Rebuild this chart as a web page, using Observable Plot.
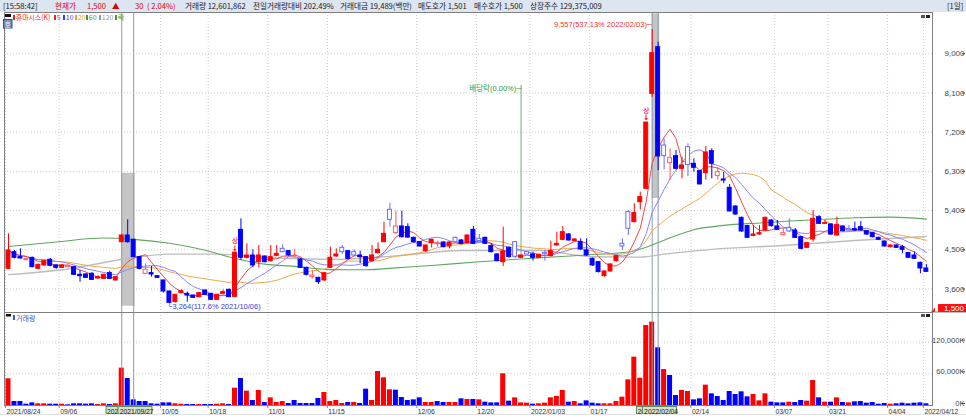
<!DOCTYPE html>
<html><head><meta charset="utf-8">
<script src="https://cdn.jsdelivr.net/npm/d3@7"></script>
<script src="https://cdn.jsdelivr.net/npm/@observablehq/plot@0.6"></script>
<style>
body{margin:0;background:#fff;}
#wrap{position:relative;width:966px;height:419px;overflow:hidden;background:#fff;}
#wrap svg{position:absolute;left:0;}
</style></head>
<body><div id="wrap"></div>
<script>
// ---------------- DATA ----------------
const dates = [
"2021/08/24","2021/08/25","2021/08/26","2021/08/27","2021/08/30","2021/08/31",
"2021/09/01","2021/09/02","2021/09/03","2021/09/06","2021/09/07","2021/09/08","2021/09/09","2021/09/10","2021/09/13","2021/09/14","2021/09/15","2021/09/16","2021/09/17","2021/09/23","2021/09/24","2021/09/27","2021/09/28","2021/09/29","2021/09/30",
"2021/10/01","2021/10/05","2021/10/06","2021/10/07","2021/10/08","2021/10/12","2021/10/13","2021/10/14","2021/10/15","2021/10/18","2021/10/19","2021/10/20","2021/10/21","2021/10/22","2021/10/25","2021/10/26","2021/10/27","2021/10/28","2021/10/29",
"2021/11/01","2021/11/02","2021/11/03","2021/11/04","2021/11/05","2021/11/08","2021/11/09","2021/11/10","2021/11/11","2021/11/12","2021/11/15","2021/11/16","2021/11/17","2021/11/18","2021/11/19","2021/11/22","2021/11/23","2021/11/24","2021/11/25","2021/11/26","2021/11/29","2021/11/30",
"2021/12/01","2021/12/02","2021/12/03","2021/12/06","2021/12/07","2021/12/08","2021/12/09","2021/12/10","2021/12/13","2021/12/14","2021/12/15","2021/12/16","2021/12/17","2021/12/20","2021/12/21","2021/12/22","2021/12/23","2021/12/24","2021/12/27","2021/12/28","2021/12/29","2021/12/30",
"2022/01/03","2022/01/04","2022/01/05","2022/01/06","2022/01/07","2022/01/10","2022/01/11","2022/01/12","2022/01/13","2022/01/14","2022/01/17","2022/01/18","2022/01/19","2022/01/20","2022/01/21","2022/01/24","2022/01/25","2022/01/26","2022/01/27","2022/01/28",
"2022/02/03","2022/02/04","2022/02/07","2022/02/08","2022/02/09","2022/02/10","2022/02/11","2022/02/14","2022/02/15","2022/02/16","2022/02/17","2022/02/18","2022/02/21","2022/02/22","2022/02/23","2022/02/24","2022/02/25","2022/02/28",
"2022/03/02","2022/03/03","2022/03/04","2022/03/07","2022/03/08","2022/03/10","2022/03/11","2022/03/14","2022/03/15","2022/03/16","2022/03/17","2022/03/18","2022/03/21","2022/03/22","2022/03/23","2022/03/24","2022/03/25","2022/03/28","2022/03/29","2022/03/30","2022/03/31",
"2022/04/01","2022/04/04","2022/04/05","2022/04/06","2022/04/07","2022/04/08","2022/04/11","2022/04/12"
];
const open = [
4063,4445,4331,4262,4315,4063,4140,4270,4140,4086,
4101,4101,3925,3933,3948,3841,3833,3964,3795,4675,
4828,4729,4331,3948,3964,3894,3795,3542,3297,3504,
3489,3450,3412,3565,3489,3351,3489,3580,3420,4958,
4315,4369,4216,4346,4239,4361,4522,4469,4345,4277,
4086,3872,3856,3795,4086,4346,4545,4469,4446,4369,
4331,4239,4422,4675,5418,4882,5035,5020,4775,4675,
4469,4652,4630,4668,4576,4775,4714,4652,4958,4752,
4775,4584,4393,4216,4545,4676,4316,4446,4393,4316,
4423,4354,4599,4729,4852,4699,4676,4484,4293,4217,
3895,4002,4239,4637,5365,5135,5594,5900,8081,9152,
6894,6489,6650,6359,6856,6474,6305,6259,6764,6191,
6114,5923,5494,5234,5043,4820,4851,4943,5173,5035,
4836,5004,4943,4790,4545,4737,5249,5096,5081,4828,
5035,4974,4974,5020,4928,4882,4775,4690,4560,4599,
4560,4423,4369,4201,4071
];
const high = [
4866,4484,4522,4310,4330,4170,4260,4300,4160,4160,
4150,4120,4025,3960,3975,3900,3940,4010,3880,4840,
5188,4740,4340,4178,4117,3900,3800,3550,3480,3580,
3530,3460,3520,3580,3500,3475,3580,3600,4435,5211,
4637,4500,4599,4360,4599,4599,4614,4480,4499,4300,
4100,4025,3870,3980,4560,4522,4599,4480,4500,4470,
4340,4599,4660,5134,5571,5387,5387,5096,4790,4690,
4610,4740,4700,4680,4690,4790,4730,4840,5035,4851,
4790,4637,4410,5020,4560,4690,4385,4460,4446,4400,
4484,4699,4905,5035,4870,4750,4752,4752,4310,4230,
4010,4175,4370,4752,5403,5556,5824,7422,9557,9267,
7048,6818,6780,6627,6933,6588,6320,6872,6818,6390,
6282,6000,5510,5250,5060,5058,5058,5250,5190,5173,
4990,5211,4990,4800,4670,5402,5290,5173,5100,5250,
5050,5058,5135,5150,4940,4900,4790,4700,4610,4610,
4599,4440,4446,4216,4163
];
const low = [
4050,4292,4285,4250,4090,4040,4125,4110,4050,4070,
4090,3910,3757,3840,3795,3820,3820,3815,3780,4660,
4650,4320,4040,3930,3871,3840,3507,3264,3280,3490,
3297,3380,3400,3450,3340,3340,3480,3400,3400,4254,
4290,4086,4086,4200,4220,4340,4430,4350,4330,4070,
3900,3830,3704,3780,4070,4330,4390,4270,4340,4180,
4100,4220,4410,4660,5020,4860,4770,4770,4650,4560,
4440,4540,4560,4545,4520,4660,4620,4640,4620,4690,
4620,4430,4220,4117,4310,4300,4300,4380,4240,4300,
4240,4340,4590,4710,4700,4680,4490,4350,4120,3970,
3872,3990,4220,4484,4828,5120,5418,5880,8000,6320,
6336,6091,6336,6129,6183,6282,5990,6100,6129,6100,
6015,5370,5290,4900,4760,4800,4830,4920,5020,4940,
4820,4900,4760,4500,4530,4675,5080,5080,4830,4810,
4910,4920,4920,4920,4830,4770,4710,4560,4545,4530,
4408,4300,4280,3948,3987
];
const close = [
4484,4315,4300,4285,4101,4155,4239,4132,4086,4140,
4132,3925,3894,3856,3810,3871,3925,3833,3871,4828,
4675,4331,4063,4040,3933,3856,3542,3282,3466,3550,
3450,3397,3504,3466,3351,3466,3527,3412,4435,4315,
4369,4140,4369,4216,4331,4407,4446,4369,4362,4086,
3925,3910,3757,3963,4315,4392,4446,4292,4369,4331,
4124,4369,4499,4866,5188,5035,4790,4780,4675,4576,
4599,4729,4652,4560,4668,4675,4637,4828,4637,4699,
4637,4446,4240,4461,4331,4339,4369,4393,4316,4385,
4408,4469,4637,4905,4714,4737,4507,4369,4140,3987,
4002,4163,4354,4576,4982,5342,5709,7422,9014,6642,
6650,6604,6359,6435,6445,6382,6000,6734,6474,6283,
6091,5380,5310,4920,4775,4851,4881,5234,5043,4958,
4882,4920,4775,4522,4652,5211,5096,5112,4851,5073,
4928,4943,4943,4943,4851,4790,4729,4576,4599,4545,
4499,4316,4293,4071,3994
];
// volume in thousands of shares (K)
const volume = [
50500,7600,7600,2500,5000,3200,3200,2500,2500,2500,
1300,3200,3200,2500,3200,1900,3200,1900,3200,70700,
51100,10700,7600,7600,3200,2500,5000,5000,3200,2500,
1900,1900,1900,1900,1900,2500,3200,1900,32800,51100,
27100,9500,28400,5700,14500,5700,7500,3800,9500,3800,
3800,3800,13300,24600,7500,9500,3800,5700,5700,3800,
30900,9500,64400,52400,29700,29000,15100,9500,10700,14500,
5700,5700,7500,5700,5700,5700,12600,11400,11400,10700,
6300,5000,5000,60000,8200,14500,5000,4400,2500,3200,
4400,14500,17000,28400,6300,7500,3200,8800,4400,3200,
3200,3200,7500,15800,48600,91500,51700,151400,157800,109200,
68100,56800,18900,28400,26500,10700,12600,38500,22100,17000,
9500,26500,20800,25900,16400,20800,8800,22100,6300,5000,
5000,6300,5700,9500,8200,47300,14500,6300,6300,14500,
5700,5000,6900,7500,4400,5700,2500,3800,2500,3200,
4400,3200,4400,5000,3200
];
// 60-day and 120-day moving averages
const ma60Dates = ["2021/08/24","2021/09/03","2021/09/15","2021/09/27","2021/10/06","2021/10/15","2021/10/22","2021/10/29","2021/11/05","2021/11/15","2021/11/23","2021/11/30","2021/12/08","2021/12/20","2021/12/29","2022/01/07","2022/01/17","2022/01/25","2022/01/28","2022/02/07","2022/02/14","2022/02/21","2022/03/02","2022/03/10","2022/03/18","2022/03/25","2022/04/04","2022/04/12"];
const ma60 = [4576,4680,4770,4740,4650,4490,4300,4170,4120,4045,4040,4085,4140,4225,4290,4340,4390,4450,4560,4720,4960,5060,5115,5160,5200,5235,5250,5205];
const ma120Dates = ["2021/08/24","2021/09/07","2021/09/24","2021/10/06","2021/10/19","2021/11/02","2021/11/16","2021/11/30","2021/12/15","2022/01/04","2022/01/17","2022/01/27","2022/02/07","2022/02/17","2022/03/08","2022/03/25","2022/04/12"];
const ma120 = [3930,4060,4300,4400,4400,4310,4280,4360,4484,4484,4340,4331,4400,4510,4600,4714,4805];

const priceTicks = [3600,4500,5400,6300,7200,8100,9000];
const volumeTicks = [0,60000,120000];
const axisDates  = ["2021/08/24","2021/09/06","2021/10/05","2021/10/18","2021/11/01","2021/11/15","2021/12/06","2021/12/20","2022/01/03","2022/01/17","2022/02/14","2022/03/07","2022/03/21","2022/04/04","2022/04/12"];
const axisLabels = ["2021/08/24","09/06","10/05","10/18","11/01","11/15","12/06","12/20","2022/01/03","01/17","02/14","03/07","03/21","04/04","2022/04/12"];

const selStart = ["2021/09/23","2022/02/03"];
const selEnd   = ["2021/09/27","2022/02/04"];
const selLow   = [3205,5678];
const selHigh  = [6259,9918];

const exDividendDate = "2021/12/29";
const exDividendRate = "0.00%";
const currentPrice = 1500;

const headerTexts = ["[15:58:42]","현재가","1,500","▲","30","( 2.04%)","거래량 12,601,862","전일거래량대비 202.49%","거래대금 19,489(백만)","매도호가 1,501","매수호가 1,500","상장주수 129,375,009","[1일]"];
const stockName = "휴마시스(K)";
const maPeriods = ["5","10","20","60","120"];
const volumeName = "거래량";

// ---------------- BUILD ----------------
const RED = "#ff0000", BLUE = "#0000ff", HRED = "#ff5a5a", HBLUE = "#6a6aff";
const GRID = "#cdcdcd";
const fmt = d3.format(",");
const idx = new Map(dates.map((d, i) => [d, i]));
const ix = d => idx.get(d);

const bars = dates.map((date, i) => ({
  i, date, open: open[i], high: high[i], low: low[i], close: close[i], volume: volume[i],
  prev: i > 0 ? close[i - 1] : null
}));
for (const b of bars) {
  b.up = b.close >= b.open;
  b.volUp = b.prev === null || b.close > b.prev;
  b.hollow = b.prev !== null && b.close !== b.open && (b.close > b.open) !== (b.close > b.prev);
  b.color = b.hollow ? (b.up ? HRED : HBLUE) : (b.up ? RED : BLUE);
  b.limitUp = b.prev !== null && b.close >= b.prev * 1.295;
}
const limitBars = bars.filter(b => b.limitUp);
const hiBar = bars.reduce((a, b) => b.high > a.high ? b : a);
const loBar = bars.reduce((a, b) => b.low < a.low ? b : a);
const pct = v => +((v / currentPrice - 1) * 100).toFixed(2);

const sels = selStart.map((s, j) => ({start: s, end: selEnd[j], low: selLow[j], high: selHigh[j]}));
const selEdges = [...selStart, ...selEnd];
// visible part of a start label that is partly covered by its end label
const startVisible = selStart.map((s, j) => ({d: s, text: s.slice(0, Math.max(1, Math.round((ix(selEnd[j]) - ix(s)) * 1.5)))}));
const ma60Pts = ma60Dates.map((d, j) => ({i: ix(d), v: ma60[j]}));
const ma120Pts = ma120Dates.map((d, j) => ({i: ix(d), v: ma120[j]}));

const xDomain = [-0.671, 155.03];
const yDomain = [3060, 9948];
const FONT = "'Liberation Sans Narrow','Liberation Sans','Noto Sans CJK KR',sans-serif";

const pricePlot = Plot.plot({
  width: 966, height: 300, marginLeft: 4, marginRight: 34, marginTop: 0, marginBottom: 0,
  x: {domain: xDomain, axis: null},
  y: {domain: yDomain, axis: null},
  style: {fontFamily: FONT, background: "transparent", overflow: "visible"},
  marks: [
    Plot.ruleY(priceTicks, {stroke: GRID, strokeDasharray: "1,2"}),
    Plot.ruleX(axisDates, {x: d => ix(d) - 0.5, stroke: GRID, strokeDasharray: "1,2"}),
    Plot.rect(sels, {x1: d => ix(d.start), x2: d => ix(d.end) + 0.25, y1: "low", y2: "high", fill: "#c5c5c5"}),
    Plot.ruleX(selEdges, {x: ix, stroke: "#8d9ab0"}),
    Plot.line(ma120Pts, {x: "i", y: "v", stroke: "#bdbdbd", strokeWidth: 1.4, curve: "monotone-x"}),
    Plot.line(ma60Pts, {x: "i", y: "v", stroke: "#5ea85e", strokeWidth: 1.1, curve: "monotone-x"}),
    Plot.lineY(bars, Plot.windowY({k: 20, anchor: "end"}, {x: "i", y: "close", stroke: "#efaa45", strokeWidth: 1})),
    Plot.lineY(bars, Plot.windowY({k: 10, anchor: "end"}, {x: "i", y: "close", stroke: "#8686ff", strokeWidth: 1})),
    Plot.lineY(bars, Plot.windowY({k: 5, anchor: "end"}, {x: "i", y: "close", stroke: "#ec4a4a", strokeWidth: 1})),
    Plot.ruleX([exDividendDate], {x: ix, y1: () => yDomain[1], y2: d => high[ix(d)], insetTop: 73, stroke: "#6aae6a"}),
    Plot.text([exDividendDate], {x: ix, frameAnchor: "top", dy: 73, text: () => `배당락(${exDividendRate})─`, textAnchor: "end", dx: 0.5, fill: "#3a9a3a", fontSize: 7.5}),
    Plot.ruleX(bars, {x: "i", y1: "low", y2: "high", stroke: "color"}),
    Plot.rect(bars, {x1: d => d.i - 0.33, x2: d => d.i + 0.33, y1: "open", y2: "close",
      fill: d => d.hollow ? "#ffffff" : d.color, stroke: "color", strokeWidth: 1}),
    Plot.text(limitBars, {x: "i", y: "high", text: () => "상", dy: -12, fill: RED, fontSize: 7, fontFamily: "'Noto Sans CJK KR'"}),
    Plot.text(limitBars, {x: "i", y: "high", text: () => "↓", dy: -4.5, fill: RED, fontSize: 7.5, fontWeight: "bold", fontFamily: "'DejaVu Sans'"}),
    Plot.text([hiBar], {x: "i", y: "high", text: d => `${fmt(d.high)}(${pct(d.high)}% ${d.date})─`, textAnchor: "end", dy: -4.5, fill: "#f03030", fontSize: 7.5}),
    Plot.text([loBar], {x: "i", y: "low", text: d => `└${fmt(d.low)}(${pct(d.low)}% ${d.date})`, textAnchor: "start", dx: -2.3, dy: 2.5, fill: "#3a3ae8", fontSize: 7.5}),
    Plot.axisY(priceTicks, {anchor: "right", tickSize: 3, tickPadding: 0, textAnchor: "end", dx: 29, tickFormat: fmt, fontSize: 8, color: "#444", label: null}),
    Plot.frame({stroke: "#7f7f7f"})
  ]
});

const volPlot = Plot.plot({
  width: 966, height: 107, marginLeft: 4, marginRight: 34, marginTop: 0, marginBottom: 14,
  x: {domain: xDomain, axis: null},
  y: {domain: [0, 176050], axis: null},
  style: {fontFamily: FONT, background: "transparent", overflow: "visible"},
  marks: [
    Plot.ruleY(volumeTicks.filter(v => v > 0), {stroke: GRID, strokeDasharray: "1,2"}),
    Plot.ruleX(axisDates, {x: d => ix(d) - 0.5, stroke: GRID, strokeDasharray: "1,2"}),
    Plot.rect(bars, {x1: d => d.i - 0.42, x2: d => d.i + 0.42, y1: 0, y2: "volume", fill: d => d.volUp ? RED : BLUE}),
    Plot.ruleX(selEdges, {x: ix, stroke: "#8d9ab0"}),
    Plot.axisY(volumeTicks, {anchor: "right", tickSize: 3, tickPadding: 0, textAnchor: "end", dx: 29, dy: -2, tickFormat: d => fmt(d) + "K", fontSize: 7.6, color: "#444", label: null}),
    Plot.ruleX(axisDates, {x: d => ix(d) - 0.5, y1: 0, y2: 0, insetBottom: -3, stroke: "#888"}),
    Plot.text(axisDates, {x: d => ix(d) - 0.5, y: 0, dy: 6.2, dx: 1, text: (d, i) => axisLabels[i], textAnchor: "start", fontSize: 6.8, fill: "#333"}),
    Plot.rect(selStart, {x1: d => ix(d) - 2.55, x2: d => ix(d) + 3.15, y1: 0, y2: 0, insetTop: 1.5, insetBottom: -9, fill: "#d6e2cf", stroke: "#5c8a5c"}),
    Plot.text(startVisible, {x: d => ix(d.d) - 2.55, y: 0, dy: 6, dx: 0.5, text: "text", textAnchor: "start", fontSize: 6.8, fill: "#222"}),
    Plot.rect(selEnd, {x1: d => ix(d) - 2.55, x2: d => ix(d) + 3.15, y1: 0, y2: 0, insetTop: 1.5, insetBottom: -9, fill: "#d6e2cf", stroke: "#5c8a5c"}),
    Plot.text(selEnd, {x: d => ix(d) + 0.5, y: 0, dy: 6, text: d => d, fontSize: 6.8, fill: "#222"}),
    Plot.frame({stroke: "#7f7f7f"})
  ]
});

// ---------------- LAYOUT ----------------
const wrap = document.getElementById("wrap");
const NS = "http://www.w3.org/2000/svg";

// header bar
const headerX = [3,55,87,112,135,147,185,253,340,418,474,530,947];
const headerRed = new Set([1,2,3,4,5]);
let hs = `<svg xmlns="${NS}" width="966" height="12" style="top:0" font-family="'Noto Sans CJK KR','Liberation Sans',sans-serif">
<rect x="0" y="0" width="966" height="12" fill="#dce5f0"/>`;
headerTexts.forEach((t, k) => {
  hs += `<text x="${headerX[k]}" y="9.2" font-size="7.6" fill="${headerRed.has(k) ? "#e00000" : "#1a1a1a"}">${t}</text>`;
});
hs += `</svg>`;
wrap.insertAdjacentHTML("beforeend", hs);

pricePlot.style.top = "12px";
wrap.appendChild(pricePlot);
volPlot.style.top = "312px";
wrap.appendChild(volPlot);

// overlay legends, icons and current price tag
const legColors = ["#ee2222","#ee2222","#3a3aff","#e8a030","#3c9a3c","#9a9a9a","#3c9a3c"];
const legBarX  = [13,54,63,75,86,99,115];
const legTexts = [stockName, ...maPeriods, "락"];
let ov = `<svg xmlns="${NS}" width="966" height="419" style="top:0;pointer-events:none" font-family="'Noto Sans CJK KR','Liberation Sans',sans-serif">
<rect x="5" y="14" width="6" height="3" fill="#111"/>
<rect x="3.5" y="19.5" width="8.5" height="8.5" fill="#6f8fb5" stroke="#3d5270"/>
<text x="7.75" y="26.6" font-size="6.5" fill="#fff" text-anchor="middle">호</text>`;
legTexts.forEach((t, k) => {
  ov += `<rect x="${legBarX[k]}" y="15" width="2" height="5" fill="${legColors[k]}"/>`;
  ov += `<text x="${legBarX[k] + 2.8}" y="20.2" font-size="${k === 0 ? 6.9 : 7}" fill="${legColors[k]}">${t}</text>`;
});
ov += `<rect x="6" y="314" width="5" height="2.5" fill="#111"/>
<rect x="13" y="315" width="2" height="5" fill="#2f5fc0"/>
<text x="16" y="320.5" font-size="7" fill="#2f5fc0">${volumeName}</text>
<rect x="921" y="15" width="4" height="3" fill="#555"/><rect x="926" y="15" width="4" height="3" fill="#222"/>
<rect x="921" y="314" width="4" height="3" fill="#555"/><rect x="926" y="314" width="4" height="3" fill="#222"/>
<line x1="932" y1="312" x2="966" y2="312" stroke="#7f7f7f"/>
<path d="M931,312 L935,307.5 L935,312 Z" fill="#ff2020"/>
<rect x="938" y="304" width="28" height="8" fill="#ff1010"/>
<text x="964" y="310.8" font-size="8" fill="#fff" text-anchor="end" font-family="'Liberation Sans Narrow','Liberation Sans',sans-serif">${fmt(currentPrice)}</text>
<line x1="0" y1="414.5" x2="966" y2="414.5" stroke="#e2e2e2"/>
</svg>`;
wrap.insertAdjacentHTML("beforeend", ov);
</script>
</body></html>
